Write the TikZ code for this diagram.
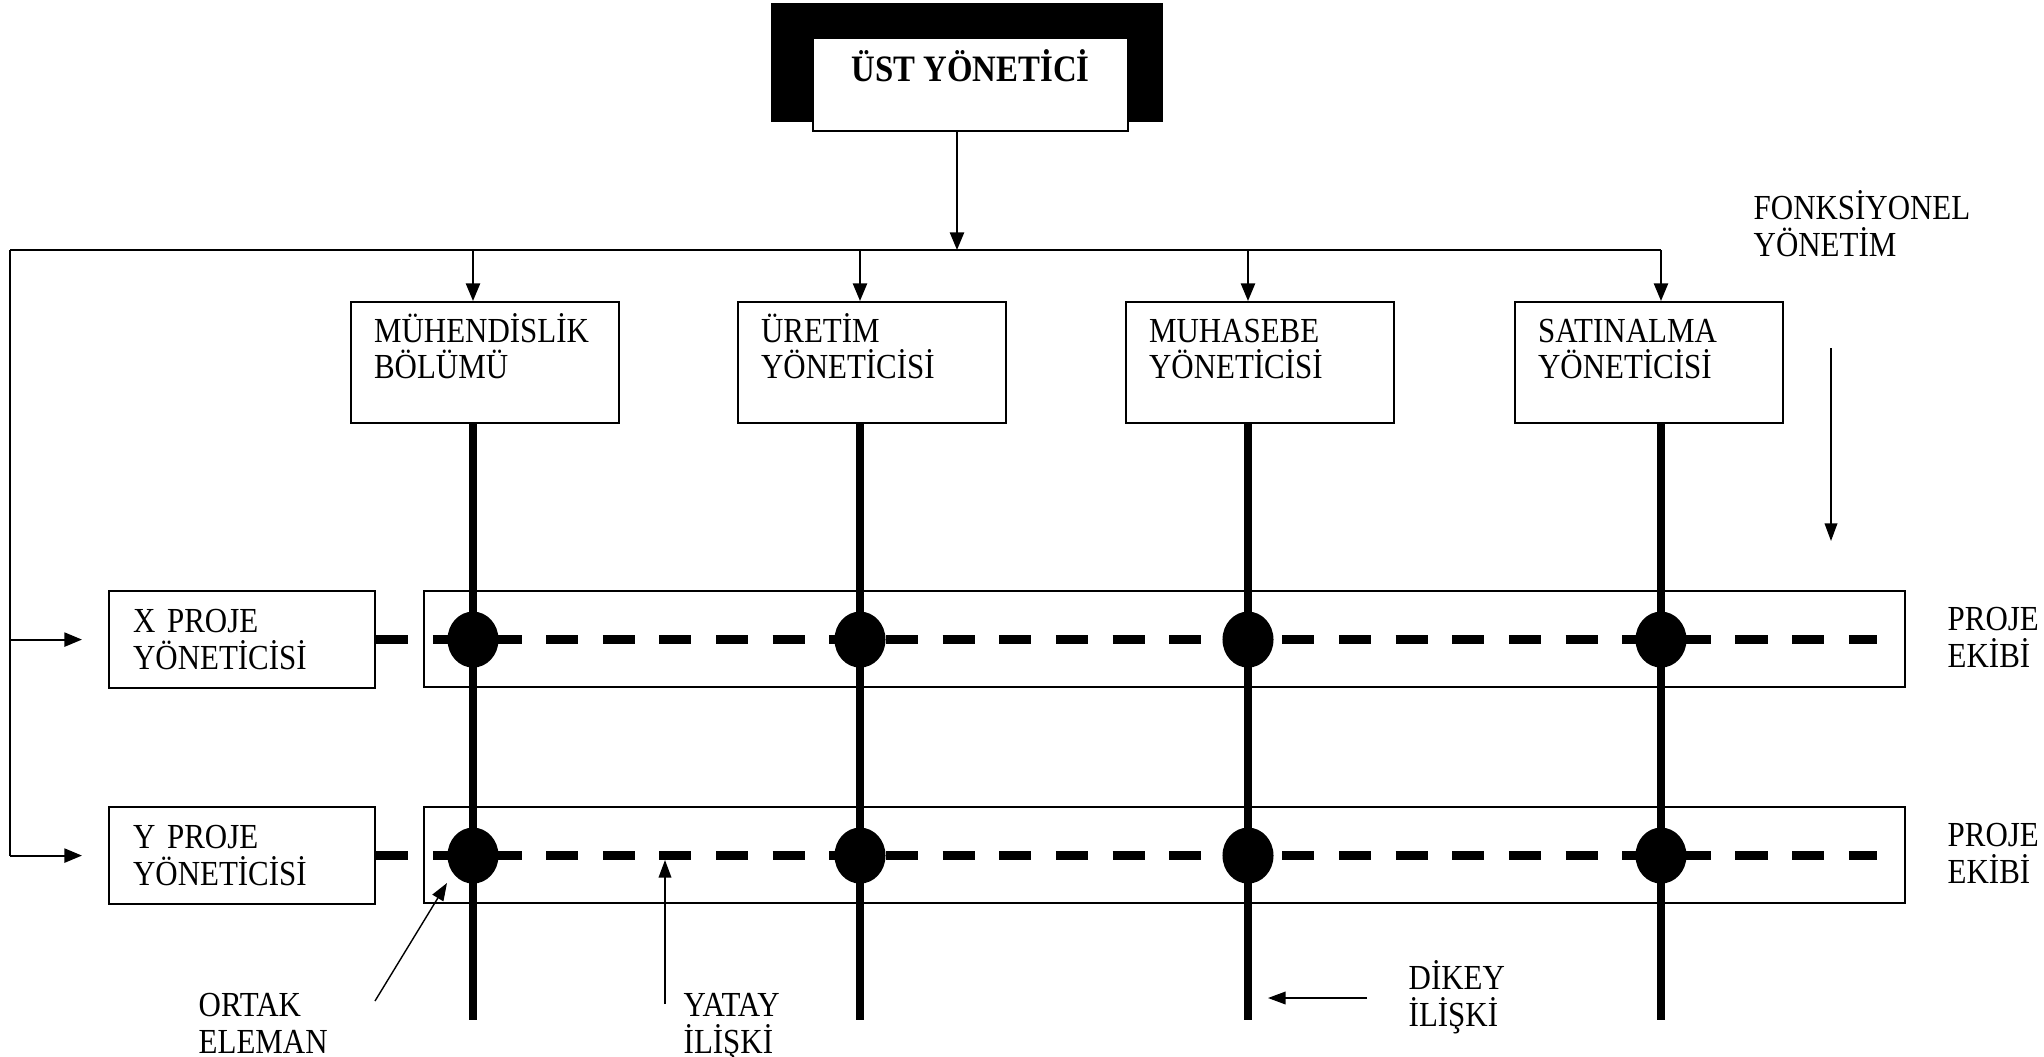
\documentclass[tikz,border=0pt]{standalone}
\usepackage{fontspec}
\setmainfont{Liberation Serif}[FakeStretch=0.88]
\usetikzlibrary{arrows.meta,shapes.geometric}
\newcommand{\boxtext}[3]{\parbox[c][#2][t]{#1}{\raggedright\rule{0pt}{8.6pt}#3}}
\begin{document}
\begin{tikzpicture}[x=0.01cm,y=-0.01cm,
  every node/.style={font=\fontsize{10pt}{10.4pt}\selectfont},
  box/.style={draw,line width=0.6pt,inner sep=0pt,anchor=north west},
  conn/.style={line width=0.6pt},
  arr/.style={line width=0.6pt,-{Triangle[length=5pt,width=4pt]}},
  thin arr/.style={line width=0.4pt,-{Triangle[length=5pt,width=3.6pt]}},
  thickv/.style={line width=2.3pt},
  dashl/.style={line width=2.6pt,dash pattern=on 0.32cm off 0.246cm},
  dot/.style={ellipse,fill=black,inner sep=0pt,minimum width=0.51cm,minimum height=0.56cm},
  lbl/.style={anchor=north west,align=left,inner sep=0pt}
]
\useasboundingbox (0,0) rectangle (2044,1057);

% top manager
\node[fill=black,anchor=north west,inner sep=0pt,minimum width=3.92cm,minimum height=1.19cm] (sh) at (770,2) {};
\node[box,fill=white,inner xsep=0pt,inner ysep=0.11cm] (top) at (812,37)
  {\parbox[c][0.71cm][t]{3.15cm}{\centering\fontsize{10.6pt}{11pt}\selectfont\bfseries ÜST YÖNETİCİ}};

% junctions
\coordinate (L) at (10,250);
\coordinate (jt) at (957,250);
\coordinate (c1) at (473,250);
\coordinate (c2) at (860,250);
\coordinate (c3) at (1248,250);
\coordinate (c4) at (1661,250);
\coordinate (bot) at (0,1020);
\coordinate (de) at (1877,0);

% department boxes
\node[box,inner xsep=0.23cm,inner ysep=0.1cm] (d1) at (350,301) {\boxtext{2.22cm}{1.01cm}{MÜHENDİSLİK\\BÖLÜMÜ}};
\node[box,inner xsep=0.23cm,inner ysep=0.1cm] (d2) at (737,301) {\boxtext{2.22cm}{1.01cm}{ÜRETİM\\YÖNETİCİSİ}};
\node[box,inner xsep=0.23cm,inner ysep=0.1cm] (d3) at (1125,301) {\boxtext{2.22cm}{1.01cm}{MUHASEBE\\YÖNETİCİSİ}};
\node[box,inner xsep=0.23cm,inner ysep=0.1cm] (d4) at (1514,301) {\boxtext{2.22cm}{1.01cm}{SATINALMA\\YÖNETİCİSİ}};

% project manager boxes
\node[box,minimum width=2.66cm,minimum height=0.97cm,text width=2.18cm,align=left,inner xsep=0.24cm] (m1) at (108,590) {X PROJE\\YÖNETİCİSİ};
\node[box,minimum width=2.66cm,minimum height=0.97cm,text width=2.18cm,align=left,inner xsep=0.24cm] (m2) at (108,806) {Y PROJE\\YÖNETİCİSİ};

% team boxes
\node[box,minimum width=14.8cm,minimum height=0.96cm] (t1) at (423,590) {};
\node[box,minimum width=14.8cm,minimum height=0.96cm] (t2) at (423,806) {};

% top connectors
\draw[arr] (top.south -| jt) -- (jt);
\draw[conn] (L) -- (c4);
\draw[arr] (c1) -- (c1 |- d1.north);
\draw[arr] (c2) -- (c2 |- d2.north);
\draw[arr] (c3) -- (c3 |- d3.north);
\draw[arr] (c4) -- (c4 |- d4.north);
\draw[conn] (L) -- (L |- m2.west);
\draw[arr,shorten >=0.26cm] (L |- m1.west) -- (m1.west);
\draw[arr,shorten >=0.26cm] (L |- m2.west) -- (m2.west);

% vertical functional lines
\draw[thickv] (c1 |- d1.south) -- (c1 |- bot);
\draw[thickv] (c2 |- d2.south) -- (c2 |- bot);
\draw[thickv] (c3 |- d3.south) -- (c3 |- bot);
\draw[thickv] (c4 |- d4.south) -- (c4 |- bot);

% horizontal project lines
\draw[dashl] (m1.east) -- (m1.east -| de);
\draw[dashl] (m2.east) -- (m2.east -| de);

% common elements
\node[dot] (e11) at (c1 |- m1.west) {};
\node[dot] (e12) at (c2 |- m1.west) {};
\node[dot] (e13) at (c3 |- m1.west) {};
\node[dot] (e14) at (c4 |- m1.west) {};
\node[dot] (e21) at (c1 |- m2.west) {};
\node[dot] (e22) at (c2 |- m2.west) {};
\node[dot] (e23) at (c3 |- m2.west) {};
\node[dot] (e24) at (c4 |- m2.west) {};

% labels
\node[lbl] (fy) at (1753,190) {FONKSİYONEL\\YÖNETİM};
\coordinate (fa1) at (1831,348);
\coordinate (fa2) at (1831,541);
\draw[thin arr] (fa1) -- (fa2);

\node[lbl] (pe1) at (1947,607) {PROJE\\EKİBİ};
\node[lbl] (pe2) at (1947,823) {PROJE\\EKİBİ};

\node[lbl] (ortak) at (198,993) {ORTAK\\ELEMAN};
\coordinate (oa1) at (375,1001);
\coordinate (oa2) at (447,883);
\draw[thin arr] (oa1) -- (oa2);

\node[lbl] (yatay) at (683,993) {YATAY\\İLİŞKİ};
\coordinate (ya1) at (665,1004);
\coordinate (ya2) at (665,860);
\draw[thin arr] (ya1) -- (ya2);

\node[lbl] (dikey) at (1408,960) {DİKEY\\İLİŞKİ};
\coordinate (da1) at (1367,998);
\coordinate (da2) at (1268,998);
\draw[thin arr] (da1) -- (da2);
\end{tikzpicture}
\end{document}
